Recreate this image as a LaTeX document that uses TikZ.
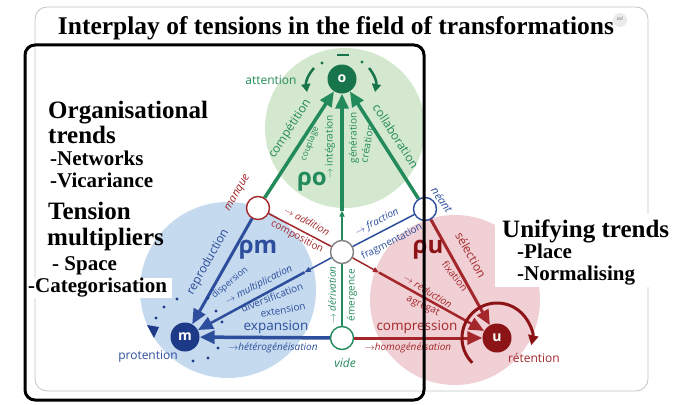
\documentclass[tikz,border=0pt]{standalone}
\usepackage{fontspec}
\setmainfont{Liberation Serif}
\newfontfamily\lblfont{Open Sans}
\usetikzlibrary{arrows.meta}

\definecolor{gdark}{HTML}{17744B}
\definecolor{gline}{HTML}{238A5B}
\definecolor{glight}{HTML}{D3E8CE}
\definecolor{bdark}{HTML}{1D3A88}
\definecolor{bline}{HTML}{2C4E9C}
\definecolor{blight}{HTML}{C5D9EF}
\definecolor{rdark}{HTML}{8C1417}
\definecolor{rline}{HTML}{A3272B}
\definecolor{rlight}{HTML}{F0D0D4}
\definecolor{framegray}{HTML}{C4C4C4}

\newcommand{\rarr}{$\rightarrow$}

\begin{document}
\begin{tikzpicture}[x=1pt,y=-1pt,
  every node/.style={inner sep=0pt},
  pole/.style={circle, minimum size=29pt, text=white, font=\lblfont\bfseries\fontsize{14}{14}\selectfont},
  hub/.style={circle, draw, fill=white, line width=1.4pt, minimum size=23pt},
  head/.style={-{Triangle[length=15pt,width=13pt]}},
  tiny/.style={-{Triangle[length=6pt,width=5pt]}},
  lab/.style={font=\lblfont\fontsize{10}{10}\selectfont},
  ilab/.style={font=\lblfont\itshape\fontsize{10}{10}\selectfont},
  mlab/.style={font=\lblfont\fontsize{12}{12}\selectfont},
  blab/.style={font=\lblfont\fontsize{13.5}{13.5}\selectfont},
  rho/.style={font=\lblfont\bfseries\fontsize{24}{24}\selectfont},
  head1/.style={font=\bfseries\fontsize{25}{25}\selectfont, anchor=base west},
  item1/.style={font=\bfseries\fontsize{21}{21}\selectfont, anchor=base west}]

	\useasboundingbox (0,0) rectangle (679,404);
	\fill[white] (0,0) rectangle (679,404);
	\draw[framegray, line width=0.8pt, rounded corners=12pt] (35,7) rectangle (648,391);

	% the three fields
	\fill[glight] (345,128) circle (80pt);
	\fill[blight] (228,290) circle (88pt);
	\fill[rlight] (455,300) circle (85pt);

	% white boxes behind the side texts
	\fill[white] (25,278) rectangle (172,298);
	\fill[white] (495,214) rectangle (679,287);

	% poles and hubs
	\node[pole, fill=gdark] (o) at (342,79) {o};
	\node[pole, fill=bdark] (m) at (185,337) {m};
	\node[pole, fill=rdark] (u) at (497,338) {u};
	\node[hub, draw=rline] (manque) at (258,208) {};
	\node[hub, draw=bline] (neant) at (425,209) {};
	\node[hub, draw=gray] (mid) at (342,252) {};
	\node[hub, draw=gline] (vide) at (342,338) {};

	% green connectors
	\draw[gline, line width=3.5pt, head] (manque) -- (o);
	\draw[gline, line width=3.5pt, head] (neant) -- (o);
	\draw[gline, line width=1.5pt] (vide) -- (mid);
	\path (mid) -- (o) coordinate[pos=0.2] (gmid);
	\draw[gline, line width=1.5pt, tiny] (mid) -- (gmid);
	\draw[gline, line width=3.5pt, head] (gmid) -- (o);

	% blue connectors
	\draw[bline, line width=3pt, head] (manque) -- (m);
	\draw[bline, line width=1.5pt] (neant) -- (mid);
	\path (mid) -- (m) coordinate[pos=0.2] (bmid);
	\draw[bline, line width=1.5pt, tiny] (mid) -- (bmid);
	\draw[bline, line width=2.5pt, head] (bmid) -- (m);
	\draw[bline, line width=3.5pt, head] (vide) -- (m);

	% red connectors
	\draw[rline, line width=1.5pt] (manque) -- (mid);
	\path (mid) -- (u) coordinate[pos=0.2] (rmid);
	\draw[rline, line width=1.5pt, tiny] (mid) -- (rmid);
	\draw[rline, line width=2.5pt, head] (rmid) -- (u);
	\draw[rline, line width=3pt, head] (neant) -- (u);
	\draw[rline, line width=3pt, head] (vide) -- (u);
	\draw[rdark, line width=3pt, -{Triangle[length=10pt,width=10pt]}] (u.center) ++(225:35pt) arc[start angle=225, end angle=-12, radius=35pt];

	% marks round o and m
	\draw[gdark, line width=2.5pt, -{Triangle[length=8pt,width=9pt]}] (314,68) to[bend right=25] (307,92);
	\draw[gdark, line width=2.5pt, -{Triangle[length=8pt,width=9pt]}] (369,68) to[bend left=25] (375,92);
	\foreach \p in {(322,63),(362,62)} \fill[gdark] \p circle (1.7pt);
	\draw[gdark, line width=2.5pt] (337,55) -- (349,55);
	\foreach \p in {(164,307),(177,299),(156,318),(208,298),(216,311),(222,322),(218,348),(193,361),(208,358)}
		\fill[bdark] \p circle (1.6pt);
	\fill[bdark] (147,325) -- (159,327) -- (154,338) -- cycle;

	% green labels
	\node[mlab, text=gline] (attn) at (271,80) {attention};
	\node[mlab, text=gline, rotate=57] (compet) at (290,129) {compétition};
	\node[text=gline, font=\lblfont\fontsize{8.5}{8.5}\selectfont, rotate=68] (coupl) at (310,144) {couplage};
	\node[rho, text=gline] (rhoo) at (312,182) {ρo};
	\node[lab, text=gline, rotate=90] (integ) at (330,147) {\rarr\ intégration};
	\node[lab, text=gline, rotate=90] (gener) at (354,138) {génération};
	\node[lab, text=gline, rotate=80] (creat) at (367,144) {création};
	\node[mlab, text=gline, rotate=-57] (collab) at (396,136) {collaboration};
	\node[ilab, text=gline, rotate=90] (deriv) at (332,295) {\rarr\ dérivation};
	\node[lab, text=gline, rotate=90] (emerg) at (352,295) {émergence};
	\node[font=\lblfont\itshape\fontsize{12}{12}\selectfont, text=gline] (videlbl) at (345,363) {vide};

	% blue labels
	\node[mlab, text=bline, rotate=60.5] (repro) at (208,262) {reproduction};
	\node[rho, text=bline] (rhom) at (258,250) {ρm};
	\node[text=bline, font=\lblfont\fontsize{9}{9}\selectfont, rotate=40] (disp) at (230,283) {dispersion};
	\node[ilab, text=bline, rotate=27] (multi) at (259,285) {\rarr\ multiplication};
	\node[lab, text=bline, rotate=21] (diver) at (272,297) {diversification};
	\node[lab, text=bline, rotate=11] (exten) at (283,310) {extension};
	\node[blab, text=bline] (expan) at (276,327) {expansion};
	\node[ilab, text=bline] (hetero) at (273,348) {\rarr hétérogénéisation};
	\node[mlab, text=bline] (proten) at (148,357) {protention};
	\node[ilab, text=bline, rotate=27] (fract) at (377,222) {\rarr\ fraction};
	\node[lab, text=bline, rotate=27] (fragm) at (392,242) {fragmentation};
	\node[font=\lblfont\itshape\fontsize{11}{11}\selectfont, text=bline, rotate=-55] (neantlbl) at (442,200) {néant};

	% red labels
	\node[font=\lblfont\itshape\fontsize{11}{11}\selectfont, text=rline, rotate=60] (manquelbl) at (238,193) {manque};
	\node[ilab, text=rline, rotate=-28] (addit) at (307,221) {\rarr\ addition};
	\node[lab, text=rline, rotate=-28] (compo) at (297,237) {composition};
	\node[rho, text=rdark] (rhou) at (428,250) {ρu};
	\node[mlab, text=rline, rotate=-61] (selec) at (471,255) {sélection};
	\node[lab, text=rline, rotate=-52] (fixat) at (455,276) {fixation};
	\node[ilab, text=rline, rotate=-32] (reduc) at (428,291) {\rarr\ réduction};
	\node[lab, text=rline, rotate=-25] (agreg) at (423,306) {agrégat};
	\node[blab, text=rline] (compr) at (417,327) {compression};
	\node[ilab, text=rline] (homog) at (408,348) {\rarr homogénéisation};
	\node[mlab, text=rline] (reten) at (534,358) {rétention};

	% title and side texts
	\node[font=\bfseries\fontsize{25.5}{25.5}\selectfont, anchor=base] (title) at (336,35) {Interplay of tensions in the field of transformations};
	\fill[black!8] (620,20) circle (7pt);
	\node[font=\lblfont\fontsize{5}{5}\selectfont, text=gray] (mark) at (620,19) {ød};
	\node[head1] (orga) at (48,118) {Organisational};
	\node[head1] (trends) at (48,143) {trends};
	\node[item1] (netw) at (50,165) {-Networks};
	\node[item1] (vica) at (50,187) {-Vicariance};
	\node[head1] (tens) at (48,219) {Tension};
	\node[head1] (multip) at (47,245) {multipliers};
	\node[item1] (space) at (52,270) {- Space};
	\node[item1] (categ) at (28,292) {-Categorisation};
	\node[head1] (unify) at (502,237) {Unifying trends};
	\node[item1] (place) at (517,258) {-Place};
	\node[item1] (norm) at (517,280) {-Normalising};

	% black frame on top
	\draw[line width=3pt, rounded corners=10pt] (25,45) rectangle (424,400);
\end{tikzpicture}
\end{document}
